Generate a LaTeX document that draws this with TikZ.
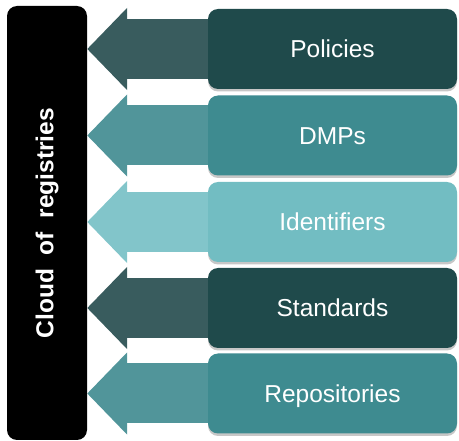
\documentclass[tikz,border=0pt]{standalone}
\usepackage{fontspec}
\setmainfont{Liberation Sans}
\usetikzlibrary{arrows.meta,shadows,backgrounds,calc}
\definecolor{boxA}{RGB}{31,74,75}
\definecolor{arrA}{RGB}{57,92,94}
\definecolor{boxB}{RGB}{62,139,144}
\definecolor{arrB}{RGB}{81,149,154}
\definecolor{boxC}{RGB}{114,189,194}
\definecolor{arrC}{RGB}{130,197,202}
\begin{document}
\begin{tikzpicture}[x=1pt,y=-1pt,
  cloudbar/.style={fill=black, rounded corners=10pt, minimum width=80pt, minimum height=434pt, inner sep=0pt},
  itembox/.style={rounded corners=10pt, minimum width=249pt, minimum height=80pt, inner sep=0pt,
    text=white, font=\fontsize{24.5}{24.5}\selectfont, text height=17.6pt, text depth=0pt,
    drop shadow={shadow xshift=0pt, shadow yshift=-2.5pt, opacity=0.22, fill=black}},
  connarrow/.style={line width=60pt, line cap=butt, -{Triangle[length=40pt,width=80pt]}}
]
\useasboundingbox (0,0) rectangle (459,441);
\node[cloudbar] (cloud) at (47,223) {};
\node[rotate=90, text=white, font=\bfseries\fontsize{24.5}{24.5}\selectfont] (cloudlabel) at (47,223) {Cloud\ \ of\ \ registries};

\node[itembox, fill=boxA] (policies) at (332.5,49) {Policies};
\node[itembox, fill=boxB] (dmps) at (332.5,135.5) {DMPs};
\node[itembox, fill=boxC] (identifiers) at (332.5,222) {Identifiers};
\node[itembox, fill=boxA] (standards) at (332.5,308) {Standards};
\node[itembox, fill=boxB] (repositories) at (332.5,393.5) {Repositories};

\begin{scope}[on background layer]
\draw[connarrow, arrA] (policies.center) -- (cloud.east |- policies.center);
\draw[connarrow, arrB] (dmps.center) -- (cloud.east |- dmps.center);
\draw[connarrow, arrC] (identifiers.center) -- (cloud.east |- identifiers.center);
\draw[connarrow, arrA] (standards.center) -- (cloud.east |- standards.center);
\draw[connarrow, arrB] (repositories.center) -- (cloud.east |- repositories.center);
\end{scope}
\end{tikzpicture}
\end{document}
